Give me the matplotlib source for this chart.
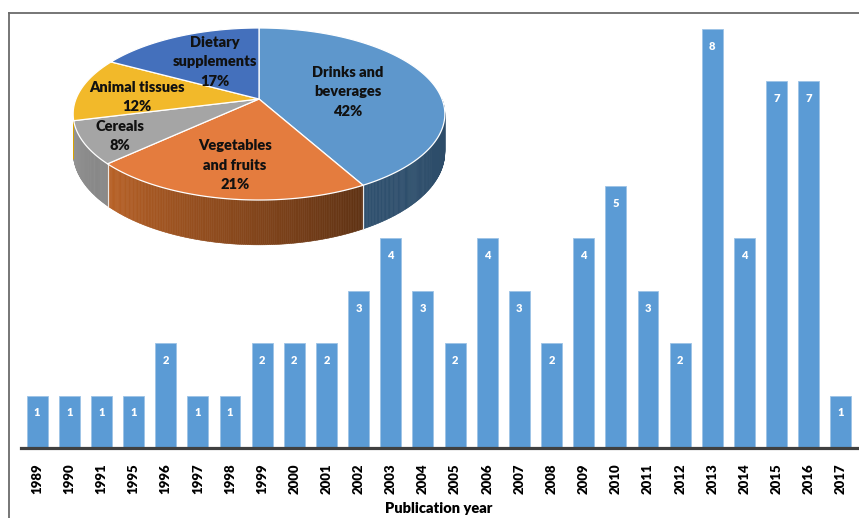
import numpy as np
import matplotlib
matplotlib.use("Agg")
import matplotlib.pyplot as plt
from matplotlib.patches import Polygon
from matplotlib.lines import Line2D

plt.rcParams['font.family'] = ['Lato', 'DejaVu Sans']
plt.rcParams['font.weight'] = 'bold'

# publications per year
years = ['1989', '1990', '1991', '1995', '1996', '1997', '1998', '1999', '2000',
         '2001', '2002', '2003', '2004', '2005', '2006', '2007', '2008', '2009',
         '2010', '2011', '2012', '2013', '2014', '2015', '2016', '2017']
counts = [1, 1, 1, 1, 2, 1, 1, 2, 2, 2, 3, 4, 3, 2, 4, 3, 2, 4, 5, 3, 2, 8, 4, 7, 7, 1]

# sample type shares (pie)
pie_labels = ['Drinks and\nbeverages', 'Vegetables\nand fruits', 'Cereals',
              'Animal tissues', 'Dietary\nsupplements']
pie_pct = [42, 21, 8, 12, 17]

W, H = 859, 518
fig = plt.figure(figsize=(W / 100, H / 100), dpi=100)

# ---- bar chart ----
ax = fig.add_axes([21 / W, 1 - 448 / H, (857 - 21) / W, (448 - 13) / H])
x = np.arange(len(years))
bars = ax.bar(x, counts, width=0.65, color='#5B9BD5', edgecolor='#9DC3E6',
              linewidth=0.6, zorder=2)
for xi, v in zip(x, counts):
    ax.annotate(str(v), (xi, v), xytext=(0, -12.5), textcoords='offset points',
                ha='center', va='center', color='white', fontsize=8,
                fontweight='heavy')
ax.set_xlim(-0.5, len(years) - 0.5)
ax.set_ylim(0, 8.3)
ax.set_xticks(x)
ax.set_xticklabels(years, rotation=90, fontsize=9.5, fontweight='heavy')
ax.tick_params(axis='x', length=0, pad=11)
ax.set_yticks([])
for s in ['top', 'right', 'left']:
    ax.spines[s].set_visible(False)
ax.spines['bottom'].set_color('#404040')
ax.spines['bottom'].set_linewidth(2.3)
ax.set_xlabel('Publication year', fontsize=10.5, fontweight='heavy', labelpad=6)
ax.patch.set_alpha(0)

# ---- overlay in pixel coordinates: frame and 3D pie ----
ov = fig.add_axes([0, 0, 1, 1])
ov.set_xlim(0, W)
ov.set_ylim(H, 0)
ov.axis('off')
ov.patch.set_alpha(0)

ov.add_line(Line2D([9, 9], [13, H], color='#6b6b6b', lw=1.3))
ov.add_line(Line2D([9, W], [13, 13], color='#6b6b6b', lw=1.3))

cx, cy = 259, 99      # pie centre on screen
R, B = 183, 83.4      # horizontal / vertical radii
p = 0.1744            # perspective strength
depth = 37            # side height
phi_edge = 256        # left silhouette of the wall

def proj(phi, down=0.0):
    # phi in degrees, clockwise from the back of the pie
    a = np.radians(phi)
    sx, d = np.sin(a), -np.cos(a)
    s = 1.0 / (1.0 - p * d)
    return cx + R * sx * s, cy + B * d * s + down * s

top_cols = ['#5E97CC', '#E47C3E', '#A5A5A5', '#F2B92A', '#4470BC']
base_rgb = [np.array(matplotlib.colors.to_rgb(c)) for c in
            ['#5B9BD5', '#ED7D31', '#A5A5A5', '#FFC000', '#4472C4']]
# side shading from left end to right end of each slice
shade = [(0.52, 0.48), (0.78, 0.40), (0.90, 0.80), (0.85, 0.85), (0.6, 0.6)]

bounds = np.concatenate([[0], np.cumsum(pie_pct)]) * 3.6

# side walls (front half only)
for i in range(len(pie_pct)):
    a0, a1 = max(bounds[i], 90), min(bounds[i + 1], phi_edge)
    if a1 <= a0:
        continue
    steps = np.linspace(a0, a1, int((a1 - a0) * 2) + 2)
    for j in range(len(steps) - 1):
        t = (steps[j] - a0) / (a1 - a0)
        f = shade[i][1] * (1 - t) + shade[i][0] * t
        col = np.clip(base_rgb[i] * f, 0, 1)
        q0, q1 = steps[j], steps[j + 1]
        pts = [proj(q0), proj(q1), proj(q1, depth), proj(q0, depth)]
        ov.add_patch(Polygon(pts, closed=True, facecolor=col, edgecolor=col,
                             lw=0.4, zorder=3))
    # white seam lines at slice edges on the wall
    for a in (bounds[i], bounds[i + 1]):
        if 90 < a < phi_edge - 1:
            ptop, pbot = proj(a), proj(a, depth)
            ov.add_line(Line2D([ptop[0], pbot[0]], [ptop[1], pbot[1]],
                               color='#e8e8e8', lw=0.8, zorder=4))

# top faces
for i in range(len(pie_pct)):
    arc = np.linspace(bounds[i], bounds[i + 1], 120)
    pts = [(cx, cy)] + [proj(a) for a in arc]
    ov.add_patch(Polygon(pts, closed=True, facecolor=top_cols[i],
                         edgecolor='white', lw=0.9, zorder=5))

label_pos = [(348, 92), (235, 165), (120, 136), (137, 97), (215, 62)]
for lab, pct, (lx, ly) in zip(pie_labels, pie_pct, label_pos):
    ov.text(lx, ly, f'{lab}\n{pct}%', ha='center', va='center', fontsize=10.5,
            fontweight='heavy', color='#111111', linespacing=1.6, zorder=6)

fig.savefig('out.png', dpi=100)
